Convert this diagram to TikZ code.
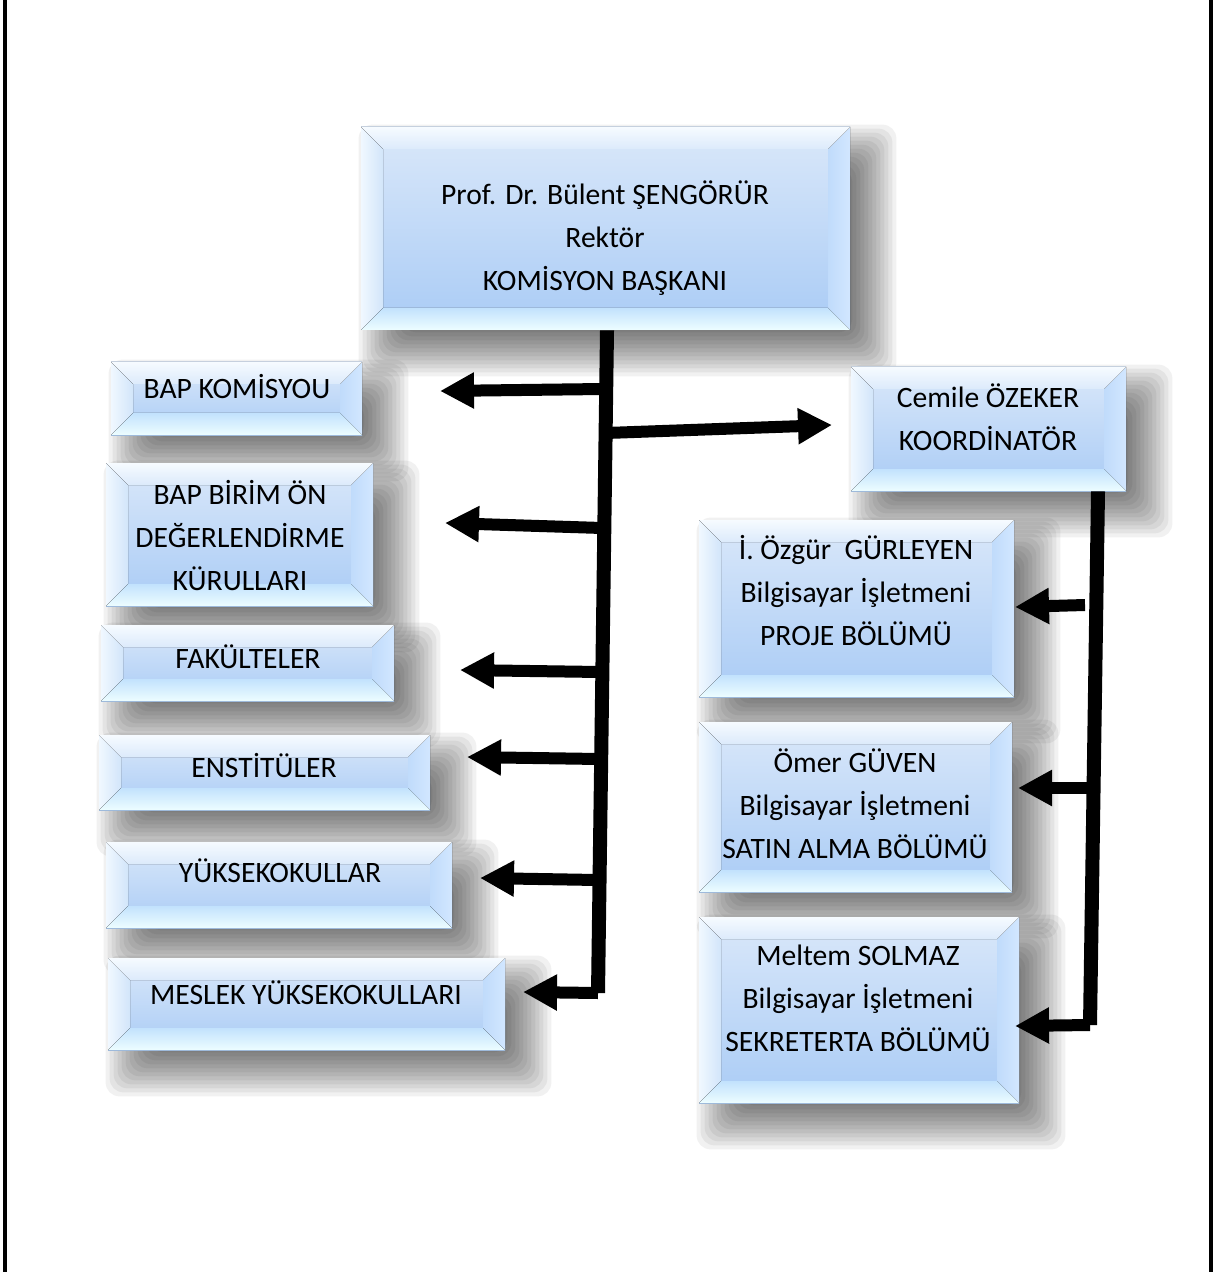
\documentclass[tikz,border=0pt]{standalone}
\usepackage{fontspec}
\setmainfont{Carlito}
\usetikzlibrary{arrows.meta,calc}
\pgfdeclarelayer{bg}
\pgfsetlayers{bg,main}
\definecolor{boxtop}{HTML}{DAE8FA}
\definecolor{boxbot}{HTML}{A9CBF5}
\definecolor{bevT1}{HTML}{F6FBFF}
\definecolor{bevT2}{HTML}{DCEAFB}
\definecolor{bevB1}{HTML}{C2E2FD}
\definecolor{bevB2}{HTML}{EDFDFF}
\definecolor{bevL1}{HTML}{F0F8FF}
\definecolor{bevL2}{HTML}{D2E5FA}
\definecolor{bevR1}{HTML}{C0DBFB}
\definecolor{bevR2}{HTML}{D2E7FF}
\def\bv{11pt}
\tikzset{
  bevelbox/.style={draw=none, inner sep=0pt, top color=boxtop, bottom color=boxbot,
    path picture={
      \path (path picture bounding box.north west) coordinate (pNW)
            (path picture bounding box.north east) coordinate (pNE)
            (path picture bounding box.south west) coordinate (pSW)
            (path picture bounding box.south east) coordinate (pSE);
      \fill[left color=bevL1, right color=bevL2] (pNW) -- ([shift={(\bv,-\bv)}]pNW) -- ([shift={(\bv,\bv)}]pSW) -- (pSW) -- cycle;
      \fill[left color=bevR1, right color=bevR2] (pNE) -- ([shift={(-\bv,-\bv)}]pNE) -- ([shift={(-\bv,\bv)}]pSE) -- (pSE) -- cycle;
      \fill[top color=bevT1, bottom color=bevT2] (pNW) -- (pNE) -- ([shift={(-\bv,-\bv)}]pNE) -- ([shift={(\bv,-\bv)}]pNW) -- cycle;
      \fill[top color=bevB1, bottom color=bevB2] (pSW) -- (pSE) -- ([shift={(-\bv,\bv)}]pSE) -- ([shift={(\bv,\bv)}]pSW) -- cycle;
    }},
  shadowlayer/.style={fill=black, fill opacity=0.055, draw=none, rounded corners=7pt},
  boxtext/.style={inner sep=0pt, align=center, text=black, font=\fontsize{14.8pt}{21.5pt}\selectfont},
  trunk/.style={line width=7pt, line cap=butt, line join=miter},
  branch/.style={line width=6pt, -{Triangle[length=17pt, width=17pt]}},
  frame/.style={line width=1.6pt}
}
\begin{document}
\begin{tikzpicture}[x=0.5pt, y=-0.5pt]
\useasboundingbox (0,0) rectangle (1214,1272);

% boxes
\node[bevelbox, minimum width=244.5pt, minimum height=101.5pt] (rek) at (605.5,228.5) {};
\node[bevelbox, minimum width=125.5pt, minimum height=36.5pt] (bap) at (236.5,398.5) {};
\node[bevelbox, minimum width=133.5pt, minimum height=71.5pt] (bir) at (239.5,534.5) {};
\node[bevelbox, minimum width=146.5pt, minimum height=38pt] (fak) at (247.5,663) {};
\node[bevelbox, minimum width=165.5pt, minimum height=37.5pt] (ens) at (264.5,772.5) {};
\node[bevelbox, minimum width=173pt, minimum height=43pt] (yuk) at (279,885) {};
\node[bevelbox, minimum width=198.5pt, minimum height=46pt] (mes) at (306.5,1004) {};
\node[bevelbox, minimum width=137.5pt, minimum height=62pt] (cem) at (988.5,429) {};
\node[bevelbox, minimum width=157.5pt, minimum height=88.5pt] (ozg) at (856.5,608.5) {};
\node[bevelbox, minimum width=156.5pt, minimum height=85pt] (ome) at (855.5,807) {};
\node[bevelbox, minimum width=160pt, minimum height=93pt] (mel) at (859,1010) {};

% background and soft shadows
\begin{pgfonlayer}{bg}
\fill[white] (0,0) rectangle (1214,1272);
\foreach \n in {rek,bap,bir,fak,ens,yuk,mes,cem,ozg,ome,mel}{
  \foreach \s in {-10,-8,...,12}{
    \fill[shadowlayer] ([shift={(11pt-\s pt,-11pt+\s pt)}]\n.north west) rectangle ([shift={(11pt+\s pt,-11pt-\s pt)}]\n.south east);
  }
}
\end{pgfonlayer}

% frame
\coordinate (fl1) at (5,0); \coordinate (fl2) at (5,1272);
\coordinate (fr1) at (1211,0); \coordinate (fr2) at (1211,1272);
\draw[frame] (fl1) -- (fl2);
\draw[frame] (fr1) -- (fr2);

% texts
\node[boxtext] (rekT) at (605,238) {Prof. Dr. Bülent ŞENGÖRÜR\\Rektör\\KOMİSYON BAŞKANI};
\node[boxtext] (bapT) at (237,387) {BAP KOMİSYOU};
\node[boxtext] (birT) at (240,536) {BAP BİRİM ÖN\\DEĞERLENDİRME\\KÜRULLARI};
\node[boxtext] (fakT) at (248,657) {FAKÜLTELER};
\node[boxtext] (ensT) at (264,766) {ENSTİTÜLER};
\node[boxtext] (yukT) at (280,871) {YÜKSEKOKULLAR};
\node[boxtext] (mesT) at (306,993) {MESLEK YÜKSEKOKULLARI};
\node[boxtext] (cemT) at (988,417) {Cemile ÖZEKER\\KOORDİNATÖR};
\node[boxtext] (ozgT) at (856,591) {İ. Özgür\ \ GÜRLEYEN\\Bilgisayar İşletmeni\\PROJE BÖLÜMÜ};
\node[boxtext] (omeT) at (855,804) {Ömer GÜVEN\\Bilgisayar İşletmeni\\SATIN ALMA BÖLÜMÜ};
\node[boxtext] (melT) at (858,998) {Meltem SOLMAZ\\Bilgisayar İşletmeni\\SEKRETERTA BÖLÜMÜ};

% main trunk coordinates
\coordinate (t0) at (rek.south -| 607,0);
\coordinate (tB) at (598,993);
\coordinate (bB1) at (603,389);  \coordinate (bE1) at (440,391);
\coordinate (bB2) at (606,433);  \coordinate (bE2) at (832,425);
\coordinate (bB3) at (602,528);  \coordinate (bE3) at (445,523);
\coordinate (bB4) at (600,672);  \coordinate (bE4) at (460,670);
\coordinate (bB5) at (599,759);  \coordinate (bE5) at (467,757);
\coordinate (bB6) at (597,880);  \coordinate (bE6) at (480,878);
\coordinate (bE7) at (523,992);

\draw[trunk] (t0) -- (tB);
\draw[branch] (tB) -- (bE7);
\draw[branch] (bB1) -- (bE1);
\draw[branch] (bB2) -- (bE2);
\draw[branch] (bB3) -- (bE3);
\draw[branch] (bB4) -- (bE4);
\draw[branch] (bB5) -- (bE5);
\draw[branch] (bB6) -- (bE6);

% right trunk
\coordinate (r0) at (cem.south -| 1098,0);
\coordinate (rB) at (1090,1025);
\coordinate (rB1) at (1085,605);  \coordinate (rE1) at (1015,607);
\coordinate (rB2) at (1090,788);  \coordinate (rE2) at (1018,788);
\coordinate (rE3) at (1015,1026);
\draw[trunk] (r0) -- (rB);
\draw[branch] (rB) -- (rE3);
\draw[branch] (rB1) -- (rE1);
\draw[branch] (rB2) -- (rE2);
\end{tikzpicture}
\end{document}
